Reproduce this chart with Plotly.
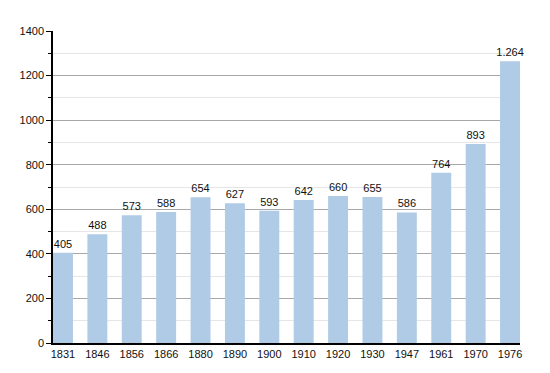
import plotly.graph_objects as go

years = ["1831", "1846", "1856", "1866", "1880", "1890", "1900", "1910", "1920", "1930", "1947", "1961", "1970", "1976"]
population = [405, 488, 573, 588, 654, 627, 593, 642, 660, 655, 586, 764, 893, 1264]

fig = go.Figure(go.Bar(
    x=years, y=population,
    marker=dict(color="#b0cbe6", line=dict(width=0)),
    width=0.58,
    texttemplate="%{y:,}", textposition="outside",
    constraintext="none",
    textfont=dict(family="Liberation Sans, Arial", size=11, color="#111111"),
    cliponaxis=False,
))

# page body has an 8px default margin, so the figure is sized to compensate
fig.update_layout(
    width=542, height=365,
    margin=dict(l=42, r=30, t=23, b=30),
    paper_bgcolor="white", plot_bgcolor="white",
    separators=",.",
    showlegend=False,
    font=dict(family="Liberation Sans, Arial", size=11, color="#111111"),
    xaxis=dict(
        type="category", range=[-0.29, 13.29],
        showline=True, linecolor="black", linewidth=1.5,
        ticks="", showgrid=False, tickfont=dict(size=11),
    ),
    yaxis=dict(
        range=[0, 1400], dtick=200,
        showline=True, linecolor="black", linewidth=1.5,
        ticks="outside", ticklen=5, tickcolor="black",
        showgrid=True, gridcolor="#a8a8a8", gridwidth=1,
        zeroline=False,
        minor=dict(dtick=100, ticks="outside", ticklen=3, tickcolor="black",
                   showgrid=True, gridcolor="#e6e6e6", gridwidth=1),
        tickfont=dict(size=11),
    ),
)

fig.write_html("out.html")
